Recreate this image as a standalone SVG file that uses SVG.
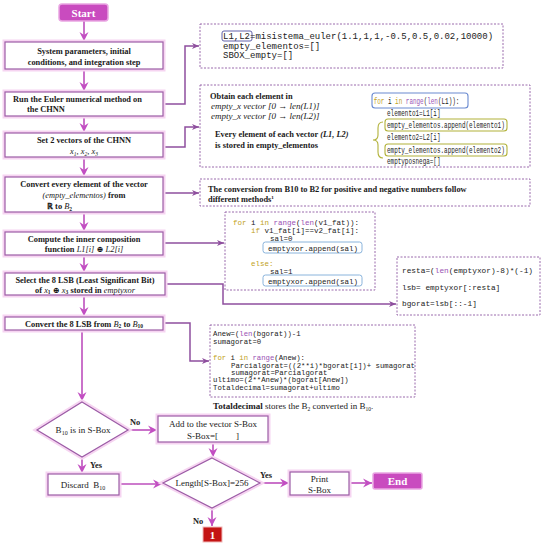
<svg xmlns="http://www.w3.org/2000/svg" width="550" height="547" viewBox="0 0 550 547">
<style>
.bg{fill:#fff}
.box{fill:#fff;stroke:#9c5ca6;stroke-width:1.2}
.glow{fill:none;stroke:#f6d4f1;stroke-width:5}
.term{fill:#c94bbf;stroke:#e9a6e2;stroke-width:1.5}
.dot{fill:#fff;stroke:#9a6aac;stroke-width:1;stroke-dasharray:2 1.5}
.t{font-family:"Liberation Serif","DejaVu Serif",serif;font-size:8.4px;font-weight:bold;fill:#1a1a1a}
.n{font-family:"Liberation Serif","DejaVu Serif",serif;font-size:9px;fill:#1a1a1a}
.i{font-style:italic;font-weight:normal}
.bi2{font-style:italic}
.m{font-family:"Liberation Mono","DejaVu Sans Mono",monospace;fill:#222}
.kw{fill:#c2a21c}
.bi{fill:#9a52b4}
.w{font-family:"Liberation Serif","DejaVu Serif",serif;font-weight:bold;fill:#fff}
.ml{fill:none;stroke:#bd4fbd;stroke-width:1.6}
.pl{fill:none;stroke:#8e4f9e;stroke-width:1.5}
.bl{fill:none;stroke:#6a86cc;stroke-width:1.3}
</style>
<defs>
<marker id="mh" markerUnits="userSpaceOnUse" markerWidth="10" markerHeight="10" refX="9" refY="5" orient="auto"><path d="M0,0.5 L9,5 L0,9.5 L3,5 z" fill="#c24ec2"/></marker>
<marker id="ph" markerUnits="userSpaceOnUse" markerWidth="8" markerHeight="8" refX="7" refY="4" orient="auto"><path d="M0,1 L7,4 L0,7 L2,4 z" fill="#8e4f9e"/></marker>
<marker id="bh" markerUnits="userSpaceOnUse" markerWidth="8" markerHeight="8" refX="7" refY="4" orient="auto"><path d="M0,1 L7,4 L0,7 L2,4 z" fill="#6a86cc"/></marker>
</defs>
<rect class="bg" x="0" y="0" width="550" height="547"/>

<g id="connectors">
<path class="ml" d="M84,21 V41" marker-end="url(#mh)"/>
<path class="ml" d="M84,69 V91" marker-end="url(#mh)"/>
<path class="ml" d="M84,116 V132" marker-end="url(#mh)"/>
<path class="ml" d="M84,157 V176" marker-end="url(#mh)"/>
<path class="ml" d="M84,212 V231" marker-end="url(#mh)"/>
<path class="ml" d="M84,255 V272" marker-end="url(#mh)"/>
<path class="ml" d="M84,295 V316" marker-end="url(#mh)"/>
<path class="ml" d="M82,330 V401" marker-end="url(#mh)"/>
<path class="pl" d="M163,104 H185 V46 H199" marker-end="url(#ph)"/>
<path class="pl" d="M163,147 H185 V127 H199" marker-end="url(#ph)"/>
<path class="pl" d="M163,193 H199" marker-end="url(#ph)"/>
<path class="pl" d="M163,243 H224" marker-end="url(#ph)"/>
<path class="pl" d="M165,284 H223 V304 H396" marker-end="url(#ph)"/>
<path class="pl" d="M163,323 H190 V361 H209" marker-end="url(#ph)"/>
<path class="bl" d="M337,105 H352 L356,100 H371" marker-end="url(#bh)"/>
<path class="ml" d="M128,430 H157" marker-end="url(#mh)"/>
<path class="ml" d="M82,457 V473" marker-end="url(#mh)"/>
<path class="ml" d="M213,442 V457" marker-end="url(#mh)"/>
<path class="ml" d="M119,484 H162" marker-end="url(#mh)"/>
<path class="ml" d="M260,483 H289" marker-end="url(#mh)"/>
<path class="ml" d="M349,483 H372" marker-end="url(#mh)"/>
<path class="ml" d="M212,508 V526" marker-end="url(#mh)"/>
<text class="t" x="130" y="425" font-size="9">No</text>
<text class="t" x="90" y="468" font-size="9">Yes</text>
<text class="t" x="260" y="478" font-size="9">Yes</text>
<text class="t" x="193" y="524" font-size="9">No</text>
</g>

<g id="start">
<rect class="term" x="59" y="4" width="49" height="17" rx="3"/>
<text class="w" x="83.5" y="16.5" font-size="11" text-anchor="middle">Start</text>
</g>

<g id="box1">
<rect class="glow" x="5" y="42" width="158" height="27"/>
<rect class="box" x="5" y="42" width="158" height="27"/>
<text class="t" x="84" y="54" text-anchor="middle">System parameters, initial</text>
<text class="t" x="84" y="65" text-anchor="middle">conditions, and integration step</text>
</g>

<g id="box2">
<rect class="glow" x="5" y="92" width="158" height="24"/>
<rect class="box" x="5" y="92" width="158" height="24"/>
<text class="t" x="13" y="102">Run the Euler numerical method on</text>
<text class="t" x="27" y="112">the CHNN</text>
</g>

<g id="box3">
<rect class="glow" x="5" y="133" width="158" height="24"/>
<rect class="box" x="5" y="133" width="158" height="24"/>
<text class="t" x="84" y="143" text-anchor="middle">Set  2 vectors of the CHNN</text>
<text class="t i" x="84" y="154" text-anchor="middle">x<tspan font-size="5.5" dy="1.5">1</tspan><tspan dy="-1.5">, x</tspan><tspan font-size="5.5" dy="1.5">2</tspan><tspan dy="-1.5">, x</tspan><tspan font-size="5.5" dy="1.5">3</tspan></text>
</g>

<g id="box4">
<rect class="glow" x="5" y="177" width="158" height="35"/>
<rect class="box" x="5" y="177" width="158" height="35"/>
<text class="t" x="84" y="187" text-anchor="middle">Convert every  element of the vector</text>
<text class="t" x="84" y="198" text-anchor="middle"><tspan class="i">(empty_elementos)</tspan> from</text>
<text class="t" x="47" y="209">ℝ to  <tspan class="i">B</tspan><tspan font-size="5.5" dy="1.5">2</tspan></text>
</g>

<g id="box5">
<rect class="glow" x="5" y="232" width="158" height="23"/>
<rect class="box" x="5" y="232" width="158" height="23"/>
<text class="t" x="84" y="242" text-anchor="middle">Compute the inner composition</text>
<text class="t" x="84" y="252" text-anchor="middle">function <tspan class="i">L1[i]</tspan> ⊕ <tspan class="i">L2[i]</tspan></text>
</g>

<g id="box6">
<rect class="glow" x="5" y="273" width="160" height="22"/>
<rect class="box" x="5" y="273" width="160" height="22"/>
<text class="t" x="85" y="282.5" text-anchor="middle">Select the 8 LSB (Least Significant Bit)</text>
<text class="t" x="85" y="292.5" text-anchor="middle">of <tspan class="i">x</tspan><tspan font-size="5.5" dy="1.5">1</tspan><tspan dy="-1.5"> ⊕ </tspan><tspan class="i">x</tspan><tspan font-size="5.5" dy="1.5">3</tspan><tspan dy="-1.5"> stored in </tspan><tspan class="i">emptyxor</tspan></text>
</g>

<g id="box7">
<rect class="glow" x="5" y="317" width="158" height="13"/>
<rect class="box" x="5" y="317" width="158" height="13"/>
<text class="t" x="84" y="326.5" text-anchor="middle">Convert the 8 LSB from <tspan class="i">B</tspan><tspan font-size="5.5" dy="1.5">2</tspan><tspan dy="-1.5"> to </tspan><tspan class="i">B</tspan><tspan font-size="5.5" dy="1.5">10</tspan></text>
</g>

<g id="codeA">
<rect class="dot" x="200" y="24" width="303" height="44"/>
<rect x="222" y="31" width="30" height="10" rx="2" fill="none" stroke="#6262aa" stroke-width="1"/>
<text class="m" x="223" y="39" font-size="9">L1,L2=misistema_euler(1.1,1,1,-0.5,0.5,0.02,10000)</text>
<text class="m" x="223" y="48.5" font-size="9">empty_elementos=[]</text>
<text class="m" x="223" y="58" font-size="9">SBOX_empty=[]</text>
</g>

<g id="codeB">
<rect class="dot" x="200" y="85" width="330" height="82"/>
<text class="t" x="210" y="99" font-size="8.5">Obtain  each element in</text>
<text class="n i" x="211" y="109">empty_x vector [0 → len(L1)]</text>
<text class="n i" x="211" y="119">empty_x vector [0 → len(L2)]</text>
<text class="t" x="215" y="137" font-size="8.5">Every element of each vector <tspan class="bi2">(L1, L2)</tspan></text>
<text class="t" x="215" y="148" font-size="8.5">is stored in  empty_elementos</text>
<rect x="372" y="93" width="96" height="15" rx="3" fill="none" stroke="#6a8ad0" stroke-width="1.1"/>
<rect x="385" y="119" width="122" height="12" rx="3" fill="none" stroke="#b2b23a" stroke-width="1.1"/>
<rect x="385" y="144" width="122" height="12" rx="3" fill="none" stroke="#b2b23a" stroke-width="1.1"/>
<path d="M383,122 Q378,122 378,128 V135 Q378,140 373,140 Q378,140 378,145 V152 Q378,158 383,158" fill="none" stroke="#b2b23a" stroke-width="1.1"/>
<g transform="translate(387,0) scale(0.7,1)">
<text class="m" x="-19" y="104" font-size="8.5"><tspan class="kw">for</tspan> i <tspan class="kw">in</tspan> <tspan class="bi">range</tspan>(<tspan class="bi">len</tspan>(L1)):</text>
<text class="m" x="0" y="116" font-size="8.5">elemento1=L1[i]</text>
<text class="m" x="0" y="128" font-size="8.5">empty_elementos.append(elemento1)</text>
<text class="m" x="0" y="140" font-size="8.5">elemento2=L2[i]</text>
<text class="m" x="0" y="153" font-size="8.5">empty_elementos.append(elemento2)</text>
<text class="m" x="0" y="164" font-size="8.5">emptyposnega=[]</text>
</g>
</g>

<g id="noteC">
<rect class="dot" x="200" y="179" width="330" height="27"/>
<text class="t" x="208" y="192" font-size="8.4">The conversion from B10 to B2 for positive and negative numbers follow</text>
<text class="t" x="208" y="202" font-size="8.4">different methods<tspan font-size="5" dy="-3">1</tspan></text>
</g>

<g id="codeD">
<rect class="dot" x="225" y="212" width="150" height="78"/>
<text class="m" x="233" y="224.5" font-size="7.5"><tspan class="kw">for</tspan> i <tspan class="kw">in</tspan> <tspan class="bi">range</tspan>(<tspan class="bi">len</tspan>(v1_fat)):</text>
<text class="m" x="251" y="232.5" font-size="7.5"><tspan class="kw">if</tspan> v1_fat[i]==v2_fat[i]:</text>
<text class="m" x="270" y="241" font-size="7.5">sal=0</text>
<rect x="263" y="242" width="99" height="11" rx="2.5" fill="#fff" stroke="#8ab4dc" stroke-width="1"/>
<text class="m" x="268" y="250.5" font-size="7.5">emptyxor.append(sal)</text>
<text class="m kw" x="251" y="265.5" font-size="7.5">else:</text>
<text class="m" x="270" y="274" font-size="7.5">sal=1</text>
<rect x="263" y="275" width="99" height="11" rx="2.5" fill="#fff" stroke="#8ab4dc" stroke-width="1"/>
<text class="m" x="268" y="283.5" font-size="7.5">emptyxor.append(sal)</text>
</g>

<g id="codeE">
<rect class="dot" x="397" y="257" width="143" height="58"/>
<text class="m" x="402" y="272.5" font-size="7.8">resta=(<tspan class="bi">len</tspan>(emptyxor)-8)*(-1)</text>
<text class="m" x="402" y="289.5" font-size="7.8">lsb= emptyxor[:resta]</text>
<text class="m" x="402" y="305.5" font-size="7.8">bgorat=lsb[::-1]</text>
</g>

<g id="codeF">
<rect class="dot" x="210" y="325" width="205" height="72"/>
<text class="m" x="213" y="335.5" font-size="7.3">Anew=(<tspan class="bi">len</tspan>(bgorat))-1</text>
<text class="m" x="213" y="343.5" font-size="7.3">sumagorat=0</text>
<text class="m" x="213" y="359.5" font-size="7.3"><tspan class="kw">for</tspan> i <tspan class="kw">in</tspan> <tspan class="bi">range</tspan>(Anew):</text>
<text class="m" x="231" y="367.5" font-size="7.3">Parcialgorat=((2**i)*bgorat[i])+ sumagorat</text>
<text class="m" x="231" y="374.5" font-size="7.3">sumagorat=Parcialgorat</text>
<text class="m" x="213" y="381.5" font-size="7.3">ultimo=(2**Anew)*(bgorat[Anew])</text>
<text class="m" x="213" y="389.5" font-size="7.3">Totaldecimal=sumagorat+ultimo</text>
<text class="n" x="213" y="409" font-size="8.4"><tspan font-weight="bold">Totaldecimal</tspan> stores the B<tspan font-size="5.5" dy="1.5">2</tspan><tspan dy="-1.5"> converted in  B</tspan><tspan font-size="5.5" dy="1.5">10</tspan><tspan dy="-1.5">.</tspan></text>
</g>

<g id="dec1">
<polygon class="glow" points="82,402 128,430 82,457 37,430"/>
<polygon class="box" points="82,402 128,430 82,457 37,430"/>
<text class="n" x="83" y="433" text-anchor="middle">B<tspan font-size="6" dy="1.5">10</tspan><tspan dy="-1.5"> is in S-Box</tspan></text>
</g>

<g id="addbox">
<rect class="glow" x="158" y="416" width="110" height="26"/>
<rect class="box" x="158" y="416" width="110" height="26"/>
<text class="n" x="213" y="427" text-anchor="middle">Add to the vector S-Box</text>
<text class="n" x="213" y="438.5" text-anchor="middle" xml:space="preserve">S-Box=[        ]</text>
</g>

<g id="dec2">
<polygon class="glow" points="212,458 260,483 212,508 163,483"/>
<polygon class="box" points="212,458 260,483 212,508 163,483"/>
<text class="n" x="212" y="486" text-anchor="middle">Length[S-Box]=256</text>
</g>

<g id="discard">
<rect class="glow" x="48" y="474" width="71" height="21"/>
<rect class="box" x="48" y="474" width="71" height="21"/>
<text class="n" x="83" y="488" text-anchor="middle" xml:space="preserve">Discard  B<tspan font-size="6" dy="1.5">10</tspan></text>
</g>

<g id="print">
<rect class="glow" x="290" y="472" width="59" height="23"/>
<rect class="box" x="290" y="472" width="59" height="23"/>
<text class="n" x="319.5" y="482" text-anchor="middle">Print</text>
<text class="n" x="319.5" y="492.5" text-anchor="middle">S-Box</text>
</g>

<g id="end">
<rect class="term" x="373" y="473" width="49" height="16" rx="2"/>
<text class="w" x="397.5" y="485" font-size="11" text-anchor="middle">End</text>
</g>

<g id="ref1">
<rect x="203" y="527" width="19" height="15" fill="#c41414" stroke="#f0b8b8" stroke-width="1"/>
<text class="w" x="212.5" y="539" font-size="11" text-anchor="middle">1</text>
</g>
</svg>
